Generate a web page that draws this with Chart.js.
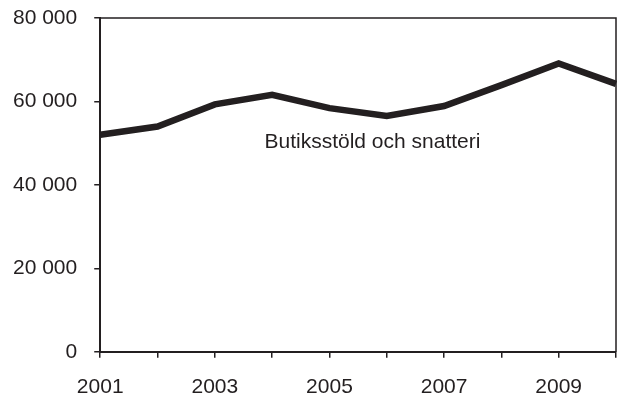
<!DOCTYPE html>
<html>
<head>
<meta charset="utf-8">
<script src="https://cdn.jsdelivr.net/npm/chart.js@4"></script>
<style>
  html, body { margin: 0; padding: 0; background: #fff; }
  #wrap { width: 619px; height: 401px; }
</style>
</head>
<body>
<div id="wrap"><canvas id="chart"></canvas></div>
<script>
const years = ['2001', '2002', '2003', '2004', '2005', '2006', '2007', '2008', '2009', '2010'];
const shopliftingValues = [52000, 54000, 59300, 61600, 58400, 56500, 58900, 63900, 69100, 64200];
const yTicks = [0, 20000, 40000, 60000, 80000];
const seriesLabel = 'Butiksstöld och snatteri';

const ink = '#231f20';
const fontFamily = '"Liberation Sans", Arial, sans-serif';

function formatThousands(v) {
  return String(v).replace(/\B(?=(\d{3})+(?!\d))/g, ' ');
}

// label placed in data space, read through the scales
const labelPlugin = {
  id: 'seriesLabel',
  afterDatasetsDraw(chart) {
    const { ctx, scales, chartArea } = chart;
    const x = scales.x.getPixelForValue(4.75);
    const y = scales.y.getPixelForValue(50300);
    ctx.save();
    ctx.font = '21px ' + fontFamily;
    ctx.fillStyle = ink;
    ctx.textAlign = 'center';
    ctx.textBaseline = 'middle';
    ctx.fillText(seriesLabel, x, y);
    // top and right frame
    ctx.strokeStyle = ink;
    ctx.lineWidth = 1.5;
    ctx.beginPath();
    ctx.moveTo(chartArea.left, chartArea.top);
    ctx.lineTo(chartArea.right, chartArea.top);
    ctx.lineTo(chartArea.right, chartArea.bottom);
    ctx.stroke();
    ctx.restore();
  }
};

const ctx = document.getElementById('chart').getContext('2d');
new Chart(ctx, {
  type: 'line',
  data: {
    labels: years,
    datasets: [{
      label: seriesLabel,
      data: shopliftingValues,
      borderColor: ink,
      borderWidth: 6.5,
      pointRadius: 0,
      tension: 0,
      fill: false
    }]
  },
  options: {
    responsive: true,
    maintainAspectRatio: false,
    animation: false,
    layout: { padding: { top: 18, right: 3, left: 13, bottom: 1 } },
    plugins: {
      legend: { display: false },
      tooltip: { enabled: false }
    },
    scales: {
      x: {
        offset: false,
        afterFit: function (axis) {
          axis.paddingRight = 0;
          axis.paddingLeft = 0;
          axis.height -= 17;
        },
        grid: { display: true, drawOnChartArea: false, drawTicks: true, tickLength: 6, color: ink, lineWidth: 1.5 },
        border: { display: true, color: ink, width: 2 },
        ticks: {
          autoSkip: false,
          maxRotation: 0,
          padding: 17,
          color: ink,
          font: { family: fontFamily, size: 21 },
          callback: function (value, index) {
            const y = Number(years[index]);
            return (y % 2 === 1) ? years[index] : '';
          }
        }
      },
      y: {
        min: 0,
        max: 80000,
        afterBuildTicks: function (axis) {
          axis.ticks = yTicks.map(v => ({ value: v }));
        },
        afterFit: function (axis) {
          axis.paddingTop = 0;
          axis.paddingBottom = 0;
          axis.width -= 17;
        },
        grid: { display: true, drawOnChartArea: false, drawTicks: true, tickLength: 6, color: ink, lineWidth: 1.5 },
        border: { display: true, color: ink, width: 2 },
        ticks: {
          padding: 17,
          color: ink,
          font: { family: fontFamily, size: 21 },
          callback: function (value) { return formatThousands(value); }
        }
      }
    }
  },
  plugins: [labelPlugin]
});
</script>
</body>
</html>
